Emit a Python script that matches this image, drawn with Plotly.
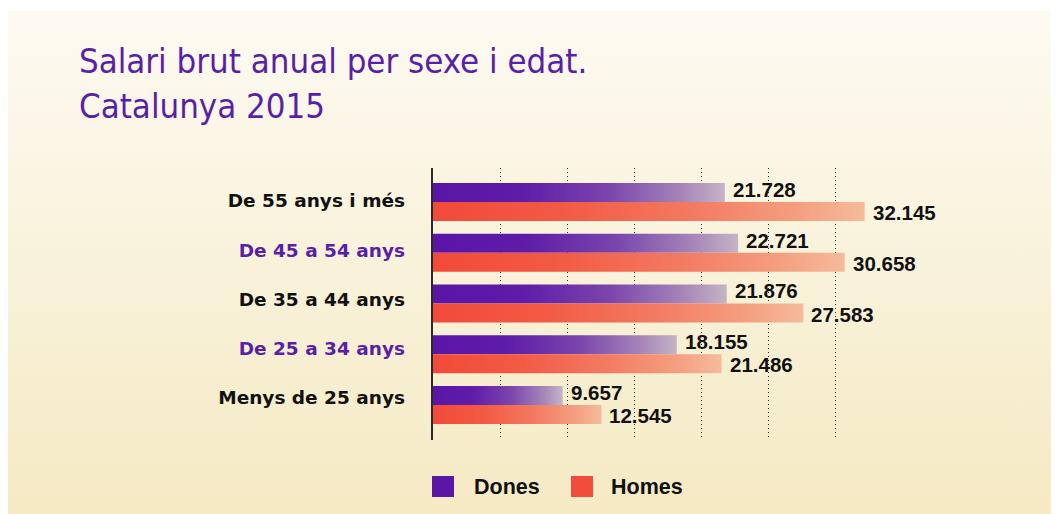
import plotly.graph_objects as go

# ---- data ----
categories = ["Menys de 25 anys", "De 25 a 34 anys", "De 35 a 44 anys",
              "De 45 a 54 anys", "De 55 anys i més"]
dones = [9657, 18155, 21876, 22721, 21728]
homes = [12545, 21486, 27583, 30658, 32145]
series_names = ["Dones", "Homes"]
title_lines = ["Salari brut anual per sexe i edat.", "Catalunya 2015"]

# ---- style / layout (screen pixels of the 1059x514 window; page has an 8px body margin) ----
SW, SH = 1059, 514
OFF = 8
FW, FH = SW - OFF, SH - OFF


def px(x):
    return (x - OFF) / FW


def py(y):
    return 1 - (y - OFF) / FH


PURPLE = "#5a17a6"
RED = "#f24d3c"
label_colors = ["#111111", "#5a1fa8", "#111111", "#5a1fa8", "#111111"]
grad = {
    "Dones": [[0, "#5a15a6"], [0.3, "#5e1ca8"], [0.6, "#7a45ac"], [0.85, "#a585b8"], [1, "#c6b4c6"]],
    "Homes": [[0, "#f24a3a"], [0.3, "#f25a44"], [0.6, "#f37a62"], [0.85, "#f4a080"], [1, "#f5bb9c"]],
}
BAR_H = 0.375

fig = go.Figure()

# background panel with vertical gradient (own hidden subplot, drawn first)
fig.add_trace(go.Scatter(
    x=[0, 1, 1, 0], y=[0, 0, 1, 1], fill="toself", mode="none",
    fillgradient=dict(type="vertical", colorscale=[[0, "#f5eac3"], [1, "#fdfaf2"]]),
    xaxis="x", yaxis="y", hoverinfo="skip", showlegend=False))

# bars as gradient-filled rectangles, each from its data value
for name, values, offs in [("Dones", dones, 0.0), ("Homes", homes, -BAR_H)]:
    for i, v in enumerate(values):
        y0 = i + offs
        y1 = y0 + BAR_H
        fig.add_trace(go.Scatter(
            x=[0, v, v, 0, 0], y=[y0, y0, y1, y1, y0], fill="toself", mode="none",
            fillgradient=dict(type="horizontal", colorscale=grad[name]),
            xaxis="x2", yaxis="y2", name=name, showlegend=False,
            hovertemplate=f"{categories[i]}<br>{name}: %{{x:,.0f}}<extra></extra>"))

# empty trace so the overlaid label axis (y3) is drawn
fig.add_trace(go.Scatter(x=[None], y=[None], xaxis="x2", yaxis="y3", mode="markers",
                         hoverinfo="skip", showlegend=False))

annotations = []
# value labels
for name, values, yc, ys in [("Dones", dones, BAR_H / 2, 3), ("Homes", homes, -BAR_H / 2, -1)]:
    for i, v in enumerate(values):
        annotations.append(dict(
            x=v, y=i + yc, xref="x2", yref="y2", xanchor="left", yanchor="middle",
            xshift=6, yshift=ys, showarrow=False,
            text=f"{v:,}".replace(",", "."),
            font=dict(family="Liberation Sans, Arial", size=20.5, color="#111111", weight="bold")))

# title
for line, yc in zip(title_lines, [61, 106]):
    annotations.append(dict(
        x=px(77), y=py(yc), xref="paper", yref="paper", xanchor="left", yanchor="middle",
        showarrow=False, text=line,
        font=dict(family="Liberation Sans Narrow, DejaVu Sans Condensed, Arial", size=34.5, color="#5a1fa8")))

# legend
shapes = []
for name, col, x0, tx in [("Dones", PURPLE, 432, 472), ("Homes", RED, 571, 609)]:
    shapes.append(dict(type="rect", xref="paper", yref="paper",
                       x0=px(x0), x1=px(x0 + 22), y0=py(497), y1=py(476),
                       fillcolor=col, line=dict(width=0)))
    annotations.append(dict(
        x=px(tx), y=py(487), xref="paper", yref="paper", xanchor="left", yanchor="middle",
        showarrow=False, text=name,
        font=dict(family="Liberation Sans, Arial", size=21.5, color="#111111", weight="bold")))

ticktext = [f"<span style='color:{c}'>{t}</span>" for t, c in zip(categories, label_colors)]

fig.update_layout(
    width=FW, height=FH,
    margin=dict(l=0, r=0, t=0, b=0, pad=0),
    paper_bgcolor="white", plot_bgcolor="rgba(0,0,0,0)",
    showlegend=False,
    xaxis=dict(domain=[0, 1], range=[0, 1], visible=False, fixedrange=True),
    yaxis=dict(domain=[0, py(11)], range=[0, 1], visible=False, fixedrange=True),
    xaxis2=dict(domain=[px(433), px(903)], anchor="y2", range=[0, 35000],
                showgrid=True, gridcolor="#333333", griddash="1px,3px", gridwidth=1,
                tick0=0, dtick=5000, showticklabels=False, zeroline=False, ticks="",
                showline=False),
    yaxis2=dict(domain=[py(440), py(168)], anchor="x2", range=[-0.69, 4.67],
                showticklabels=False, showgrid=False, zeroline=False,
                showline=True, linecolor="#2a2a2a", linewidth=2, ticks=""),
    # category labels on a slightly tighter overlaid scale (labels sit a bit closer together than the bars)
    yaxis3=dict(overlaying="y2", anchor="x2", side="left", range=[-0.853, 4.67],
                tickvals=list(range(len(categories))), ticktext=ticktext,
                tickfont=dict(family="DejaVu Sans", size=18.5, color="#111111", weight="bold"),
                showgrid=False, zeroline=False, showline=False, ticks="", ticklabelstandoff=27),
    annotations=annotations, shapes=shapes,
)

fig.write_html("out.html")
